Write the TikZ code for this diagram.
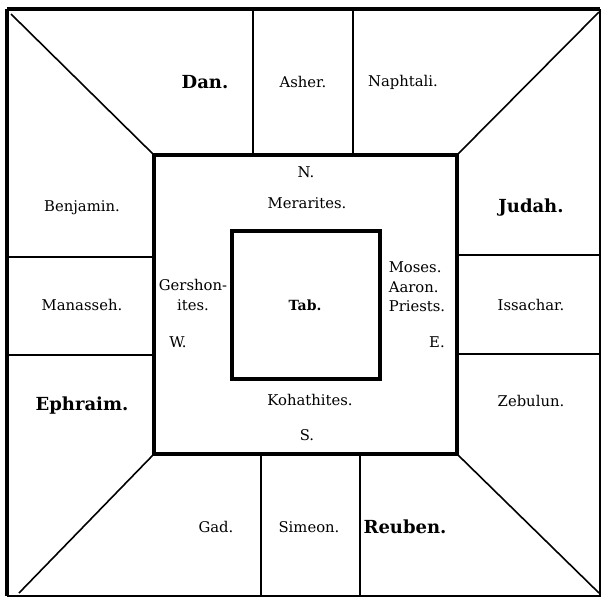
\documentclass[tikz,border=0pt]{standalone}
\usepackage{fontspec}
\setmainfont{DejaVu Serif}
\begin{document}
\begin{tikzpicture}[x=1pt,y=-1pt,
  frame/.style={line width=3.2pt},
  thin/.style={line width=1.5pt},
  diag/.style={line width=1.6pt},
  lbl/.style={font=\fontsize{14.8}{19.5}\selectfont, inner sep=0pt},
  lead/.style={font=\fontsize{18}{20}\bfseries\selectfont, inner sep=0pt},
  tab/.style={font=\fontsize{14}{16}\bfseries\selectfont, inner sep=0pt}]
\useasboundingbox (0,0) rectangle (603,598);
% outer frame corners
\coordinate (O1) at (7,9);
\coordinate (O2) at (600,9);
\coordinate (O3) at (600,596);
\coordinate (O4) at (7,596);
% middle square corners
\coordinate (M1) at (154,155);
\coordinate (M2) at (457,155);
\coordinate (M3) at (457,454);
\coordinate (M4) at (154,454);
% diagonal outer ends
\coordinate (D1) at (11,14);
\coordinate (D2) at (599,12);
\coordinate (D3) at (599,593);
\coordinate (D4) at (19,593);
% divider ends
\coordinate (T1a) at (253,9);   \coordinate (T1b) at (253,155);
\coordinate (T2a) at (353,9);   \coordinate (T2b) at (353,155);
\coordinate (B1a) at (261,454); \coordinate (B1b) at (261,596);
\coordinate (B2a) at (360,454); \coordinate (B2b) at (360,596);
\coordinate (L1a) at (7,257);   \coordinate (L1b) at (154,257);
\coordinate (L2a) at (7,355);   \coordinate (L2b) at (154,355);
\coordinate (R1a) at (457,255); \coordinate (R1b) at (600,255);
\coordinate (R2a) at (457,354); \coordinate (R2b) at (600,354);
% inner square
\coordinate (I1) at (232,231);
\coordinate (I3) at (380,379);

\draw[frame] (O1) -- (O2);
\draw[frame] (O1) -- (O4);
\draw[line width=1.8pt] (O2) -- (O3) -- (O4);
\draw[frame] (M1) -- (M2) -- (M3) -- (M4) -- cycle;
\draw[frame] (I1) rectangle (I3);
\draw[diag] (D1) -- (M1);
\draw[diag] (D2) -- (M2);
\draw[diag] (D3) -- (M3);
\draw[diag] (D4) -- (M4);
\draw[thin] (T1a) -- (T1b);
\draw[thin] (T2a) -- (T2b);
\draw[thin] (B1a) -- (B1b);
\draw[thin] (B2a) -- (B2b);
\draw[thin] (L1a) -- (L1b);
\draw[thin] (L2a) -- (L2b);
\draw[thin] (R1a) -- (R1b);
\draw[thin] (R2a) -- (R2b);

% tribes
\node[lead] (dan) at (205,82) {Dan.};
\node[lbl] (asher) at (303,82) {Asher.};
\node[lbl] (naph) at (403,82) {Naphtali.};
\node[lbl] (benj) at (82,208) {Benjamin.};
\node[lbl] (man) at (82,305) {Manasseh.};
\node[lead] (eph) at (82,406) {Ephraim.};
\node[lead] (judah) at (531,208) {Judah.};
\node[lbl] (iss) at (531,305) {Issachar.};
\node[lbl] (zeb) at (531,401) {Zebulun.};
\node[lbl] (gad) at (216,527) {Gad.};
\node[lbl] (sim) at (309,527) {Simeon.};
\node[lead] (reub) at (405,527) {Reuben.};
% levites
\node[lbl] (n) at (306,172) {N.};
\node[lbl] (mer) at (307,203) {Merarites.};
\node[lbl,align=center] (gersh) at (193,295) {Gershon-\\ites.};
\node[lbl] (w) at (178,342) {W.};
\node[tab] (tab) at (305,305) {Tab.};
\node[lbl,align=left] (moses) at (417,287) {Moses.\\Aaron.\\Priests.};
\node[lbl] (e) at (437,342) {E.};
\node[lbl] (koh) at (310,400) {Kohathites.};
\node[lbl] (s) at (307,435) {S.};
\end{tikzpicture}
\end{document}
